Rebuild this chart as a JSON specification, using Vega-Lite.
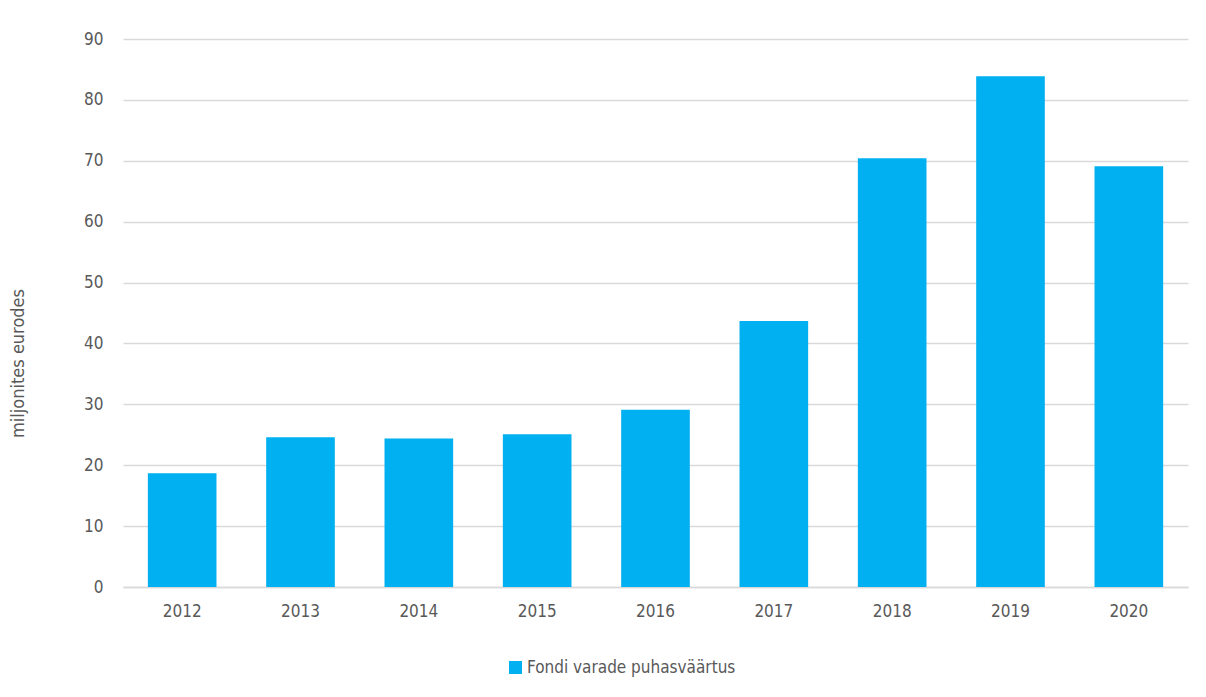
{
  "$schema": "https://vega.github.io/schema/vega-lite/v6.json",
  "width": 1065,
  "height": 548,
  "autosize": {"type": "none"},
  "padding": {"left": 123, "top": 39, "right": 18, "bottom": 110},
  "background": "white",
  "data": {
    "values": [
      {"aasta": "2012", "vaartus": 18.7, "seeria": "Fondi varade puhasväärtus"},
      {"aasta": "2013", "vaartus": 24.6, "seeria": "Fondi varade puhasväärtus"},
      {"aasta": "2014", "vaartus": 24.4, "seeria": "Fondi varade puhasväärtus"},
      {"aasta": "2015", "vaartus": 25.1, "seeria": "Fondi varade puhasväärtus"},
      {"aasta": "2016", "vaartus": 29.1, "seeria": "Fondi varade puhasväärtus"},
      {"aasta": "2017", "vaartus": 43.7, "seeria": "Fondi varade puhasväärtus"},
      {"aasta": "2018", "vaartus": 70.4, "seeria": "Fondi varade puhasväärtus"},
      {"aasta": "2019", "vaartus": 83.9, "seeria": "Fondi varade puhasväärtus"},
      {"aasta": "2020", "vaartus": 69.1, "seeria": "Fondi varade puhasväärtus"}
    ]
  },
  "mark": {"type": "bar"},
  "encoding": {
    "x": {
      "field": "aasta",
      "type": "nominal",
      "scale": {"paddingInner": 0.42, "paddingOuter": 0.21},
      "axis": {
        "title": null,
        "labelAngle": 0,
        "ticks": false,
        "domainColor": "#d9d9d9",
        "domainWidth": 1.5,
        "labelPadding": 16,
        "labelFont": "DejaVu Sans Condensed",
        "labelFontSize": 17,
        "labelColor": "#595959"
      }
    },
    "y": {
      "field": "vaartus",
      "type": "quantitative",
      "scale": {"domain": [0, 90]},
      "axis": {
        "title": "miljonites eurodes",
        "titleFont": "DejaVu Sans Condensed",
        "titleFontSize": 18,
        "titleFontWeight": "normal",
        "titleColor": "#595959",
        "titleX": -96,
        "titleY": 324,
        "values": [0, 10, 20, 30, 40, 50, 60, 70, 80, 90],
        "domain": false,
        "ticks": false,
        "labelPadding": 20,
        "labelFont": "DejaVu Sans Condensed",
        "labelFontSize": 17,
        "labelColor": "#595959",
        "gridColor": "#d9d9d9",
        "gridWidth": 1.5
      }
    },
    "color": {
      "field": "seeria",
      "type": "nominal",
      "scale": {"range": ["#00B0F0"]},
      "legend": {
        "title": null,
        "orient": "none",
        "legendX": 384,
        "legendY": 620,
        "symbolType": "square",
        "symbolSize": 170,
        "symbolStrokeWidth": 0,
        "labelFont": "DejaVu Sans Condensed",
        "labelFontSize": 17,
        "labelColor": "#595959",
        "labelOffset": 3,
        "labelLimit": 500
      }
    }
  },
  "config": {
    "view": {"stroke": null}
  }
}
